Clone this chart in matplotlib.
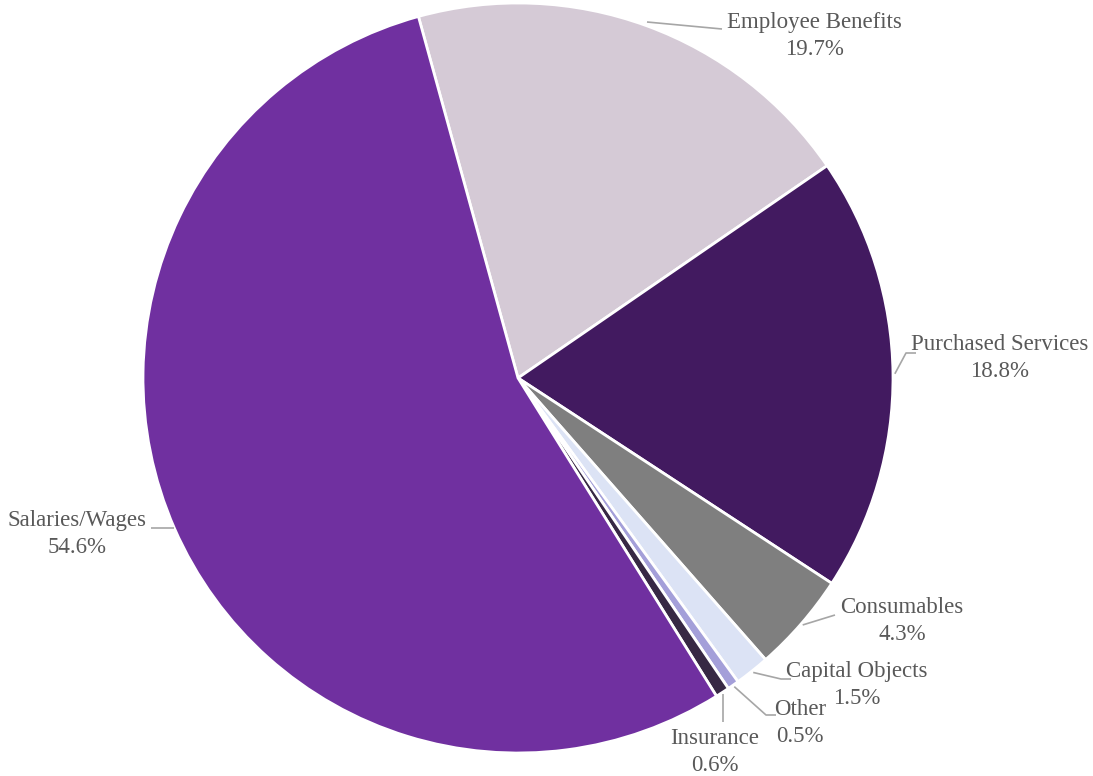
import numpy as np
import matplotlib
matplotlib.use("Agg")
import matplotlib.pyplot as plt

# Spending breakdown, clockwise from the top
categories = ["Employee Benefits", "Purchased Services", "Consumables",
              "Capital Objects", "Other", "Insurance", "Salaries/Wages"]
shares = [19.7, 18.8, 4.3, 1.5, 0.5, 0.6, 54.6]

colors = ["#D5CAD6", "#421A60", "#7F7F7F", "#DCE3F5", "#A49FD9", "#372844", "#7030A0"]

# label block centres and leader elbows, in figure pixels (x, y from top)
W, H = 1093, 776
cx, cy, R = 518, 378, 375
label_xy = [(814, 36), (1000, 358), (902, 621), (857, 685), (800, 723), (715, 752), (77, 534)]
elbow_xy = [(722, 29), (906, 353), (835, 615), (781, 679), (766, 715), (724, 722), (151, 528)]
line_gap = 27

plt.rcParams["font.family"] = ["Liberation Serif", "DejaVu Serif"]

fig = plt.figure(figsize=(W / 100, H / 100), dpi=100)
ax = fig.add_axes([(cx - R) / W, (H - cy - R) / H, 2 * R / W, 2 * R / H])

wedges, _ = ax.pie(shares, colors=colors, startangle=105.4, counterclock=False,
                   radius=1.0, wedgeprops=dict(edgecolor="white", linewidth=2))
ax.set_xlim(-1, 1)
ax.set_ylim(-1, 1)
ax.set_aspect("equal")
ax.axis("off")


def to_data(px, py):
    return (px - cx) / R, (cy - py) / R


for w, name, val, lab, elb in zip(wedges, categories, shares, label_xy, elbow_xy):
    mid = np.deg2rad((w.theta1 + w.theta2) / 2)
    x0, y0 = 1.005 * np.cos(mid), 1.005 * np.sin(mid)
    ex, ey = to_data(*elb)
    if name == "Employee Benefits":
        # leader hooks onto the outer edge a bit left of the slice middle
        x0, y0 = to_data(647, 22)
    if name == "Salaries/Wages":
        pts = [(np.cos(np.arcsin(ey)) * -1, ey), (ex, ey)]
    elif name == "Insurance":
        pts = [(x0, y0), (x0, ey)]
    else:
        pts = [(x0, y0), (ex, ey)]
        if name in ("Purchased Services", "Capital Objects", "Other"):
            pts.append((ex + 10 / R, ey))
    xs, ys = zip(*pts)
    ax.plot(xs, ys, color="#A6A6A6", lw=1.2, clip_on=False, solid_capstyle="butt")

    # name and percentage as two centred lines
    lx, ly = to_data(lab[0], lab[1] - line_gap / 2)
    ax.text(lx, ly, name, ha="center", va="center", fontsize=16.5, color="#595959")
    lx, ly = to_data(lab[0], lab[1] + line_gap / 2)
    ax.text(lx, ly, f"{val:.1f}%", ha="center", va="center", fontsize=16.5, color="#595959")

fig.savefig("out.png", dpi=100)
